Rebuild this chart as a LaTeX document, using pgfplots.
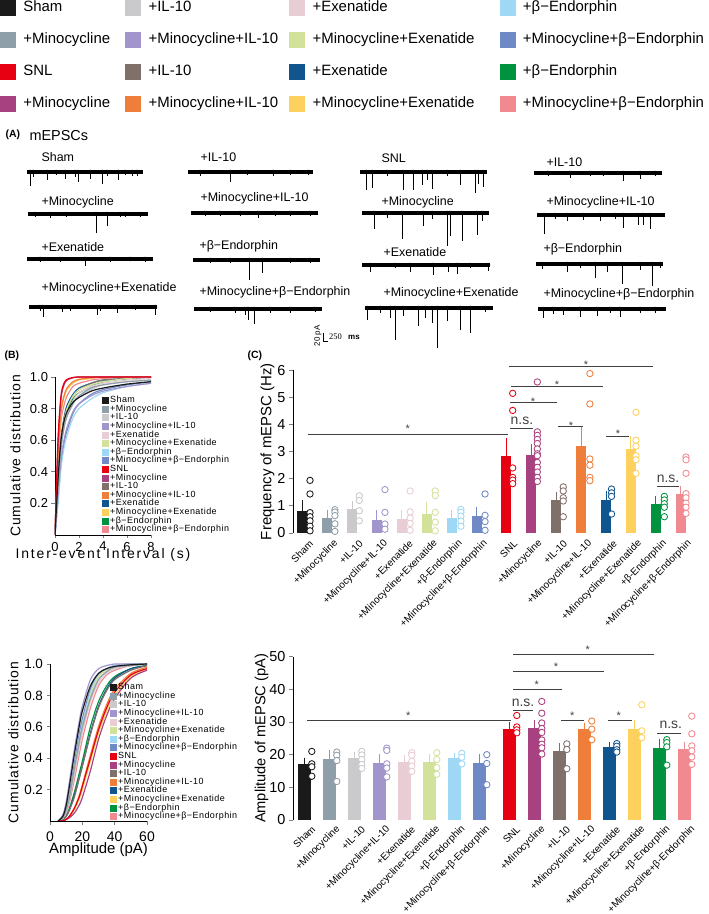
\documentclass[border=0pt]{standalone}
\usepackage{fontspec}
\setmainfont{Liberation Sans}
\newfontfamily\lserif{Liberation Serif}
\newfontfamily\trkA[LetterSpace=13]{Liberation Sans}
\newfontfamily\trkB[LetterSpace=7]{Liberation Sans}
\newfontfamily\trkL[LetterSpace=5]{Liberation Sans}
\usepackage{pgfplots}
\pgfplotsset{compat=1.18}
\newcommand{\fs}[1]{\fontsize{#1}{#1}\selectfont}
\definecolor{cSham}{HTML}{1A1A1A}
\definecolor{cMino}{HTML}{8E9FAA}
\definecolor{cIL}{HTML}{CACACC}
\definecolor{cMIL}{HTML}{A295CB}
\definecolor{cEx}{HTML}{E8CDD4}
\definecolor{cMEx}{HTML}{D3E29B}
\definecolor{cB}{HTML}{9ED8F5}
\definecolor{cMB}{HTML}{6F89C6}
\definecolor{cSNL}{HTML}{E60012}
\definecolor{cSMino}{HTML}{A8417F}
\definecolor{cSIL}{HTML}{80706A}
\definecolor{cSMIL}{HTML}{EE7E3A}
\definecolor{cSEx}{HTML}{11558F}
\definecolor{cSMEx}{HTML}{FED15E}
\definecolor{cSB}{HTML}{00923F}
\definecolor{cSMB}{HTML}{F08A90}
\definecolor{sig}{HTML}{404040}
\pgfplotsset{
 /pgf/number format/assume math mode=true,
 trace/.style={black, line width=4.2bp, forget plot},
 spk/.style={only marks, mark=none, forget plot, /pgfplots/error bars/y dir=plus, /pgfplots/error bars/y explicit, /pgfplots/error bars/error mark=none, /pgfplots/error bars/error bar style={line width=0.9bp, black}},
 cdf/.style={line width=1.2bp, smooth, forget plot},
 sigl/.style={sig, line width=0.9bp, forget plot},
 cdflegend/.style={legend cell align=left, legend image code/.code={\fill[##1] (0bp,-3bp) rectangle (6bp,3bp);},
  legend style={anchor=north west, draw=none, fill=none, inner sep=0pt, font=\fs{9}\trkL, row sep=0pt,
  nodes={inner sep=0pt, text height=6.6bp, text depth=2bp}, /tikz/every odd column/.style={column sep=1.5bp}}},
}
% color, bar width, x, mean, error, circles
\newcommand{\bargrp}[6]{%
\addplot[ybar, bar width=#2, bar shift=0pt, fill=#1, draw=none, forget plot, /pgfplots/error bars/y dir=plus, /pgfplots/error bars/y explicit, /pgfplots/error bars/error bar style={draw=#1, line width=1bp}, /pgfplots/error bars/error mark options={draw=#1, mark size=4bp, line width=1bp}] coordinates {(#3,#4) +- (0,#5)};
\addplot[only marks, mark=*, mark size=3.2bp, forget plot, mark options={draw=#1, fill=white, line width=0.85bp}] coordinates {#6};}
\newcommand{\cdfentries}{%
\addlegendimage{color=cSham}\addlegendentry{Sham}
\addlegendimage{color=cMino}\addlegendentry{+Minocycline}
\addlegendimage{color=cIL}\addlegendentry{+IL-10}
\addlegendimage{color=cMIL}\addlegendentry{+Minocycline+IL-10}
\addlegendimage{color=cEx}\addlegendentry{+Exenatide}
\addlegendimage{color=cMEx}\addlegendentry{+Minocycline+Exenatide}
\addlegendimage{color=cB}\addlegendentry{+β−Endorphin}
\addlegendimage{color=cMB}\addlegendentry{+Minocycline+β−Endorphin}
\addlegendimage{color=cSNL}\addlegendentry{SNL}
\addlegendimage{color=cSMino}\addlegendentry{+Minocycline}
\addlegendimage{color=cSIL}\addlegendentry{+IL-10}
\addlegendimage{color=cSMIL}\addlegendentry{+Minocycline+IL-10}
\addlegendimage{color=cSEx}\addlegendentry{+Exenatide}
\addlegendimage{color=cSMEx}\addlegendentry{+Minocycline+Exenatide}
\addlegendimage{color=cSB}\addlegendentry{+β−Endorphin}
\addlegendimage{color=cSMB}\addlegendentry{+Minocycline+β−Endorphin}}
\begin{document}
\begin{tikzpicture}
% ---------------- page axis: panel A traces and labels
\begin{axis}[hide axis, scale only axis, width=709bp, height=914bp, xmin=0, xmax=709, ymin=0, ymax=914, y dir=reverse, at={(0bp,0bp)}, anchor=south west, clip=false]
\node[anchor=west, font=\fs{10.5}\bfseries] at (axis cs:2,135) {(A)};
\node[anchor=west, font=\fs{14.5}] at (axis cs:26,136) {mEPSCs};
\node[anchor=west, font=\fs{10.5}\bfseries] at (axis cs:1,356) {(B)};
\node[anchor=west, font=\fs{10.5}\bfseries] at (axis cs:244,356) {(C)};
% column 1
\addplot[trace] coordinates {(27,172)(143,172)};
\addplot[spk] coordinates {(30,172)+-(0,14) (33,172)+-(0,5) (47,172)+-(0,8) (56,172)+-(0,3) (65,172)+-(0,7) (75,172)+-(0,5) (78,172)+-(0,10) (90,172)+-(0,7) (102,172)+-(0,12) (107,172)+-(0,4) (118,172)+-(0,8) (125,172)+-(0,3) (132,172)+-(0,4) (137,172)+-(0,4)};
\addplot[trace] coordinates {(28,214)(148,214)};
\addplot[spk] coordinates {(35,214)+-(0,3) (50,214)+-(0,4) (66,214)+-(0,3) (96,214)+-(0,19) (107,214)+-(0,12) (120,214)+-(0,3) (125,214)+-(0,3) (140,214)+-(0,3)};
\addplot[trace] coordinates {(27,259)(153,259)};
\addplot[spk] coordinates {(40,259)+-(0,3) (60,259)+-(0,3) (85,259)+-(0,7) (110,259)+-(0,3) (130,259)+-(0,2) (145,259)+-(0,3)};
\addplot[trace] coordinates {(29,307)(157,307)};
\addplot[spk] coordinates {(40,307)+-(0,4) (43,307)+-(0,10) (62,307)+-(0,5) (70,307)+-(0,4) (97,307)+-(0,8) (100,307)+-(0,4) (117,307)+-(0,6) (135,307)+-(0,3) (155,307)+-(0,8)};
% column 2
\addplot[trace] coordinates {(188,172)(313,172)};
\addplot[spk] coordinates {(200,172)+-(0,4) (230,172)+-(0,10) (247,172)+-(0,3) (273,172)+-(0,4) (290,172)+-(0,3) (308,172)+-(0,3)};
\addplot[trace] coordinates {(191,213)(318,213)};
\addplot[spk] coordinates {(205,213)+-(0,3) (220,213)+-(0,3) (240,213)+-(0,3) (258,213)+-(0,5) (275,213)+-(0,3) (290,213)+-(0,3) (310,213)+-(0,3)};
\addplot[trace] coordinates {(193,260)(320,260)};
\addplot[spk] coordinates {(210,260)+-(0,3) (230,260)+-(0,3) (249,260)+-(0,20) (262,260)+-(0,13) (290,260)+-(0,3) (310,260)+-(0,3)};
\addplot[trace] coordinates {(194,309)(322,309)};
\addplot[spk] coordinates {(210,309)+-(0,3) (235,309)+-(0,4) (245,309)+-(0,6) (248,309)+-(0,11) (254,309)+-(0,15) (270,309)+-(0,4) (290,309)+-(0,4) (315,309)+-(0,3)};
% column 3
\addplot[trace] coordinates {(360,172)(487,172)};
\addplot[spk] coordinates {(366,172)+-(0,18) (372,172)+-(0,16) (387,172)+-(0,4) (403,172)+-(0,18) (413,172)+-(0,18) (422,172)+-(0,13) (427,172)+-(0,8) (432,172)+-(0,17) (447,172)+-(0,4) (460,172)+-(0,13) (475,172)+-(0,21) (478,172)+-(0,12) (483,172)+-(0,15)};
\addplot[trace] coordinates {(362,213)(489,213)};
\addplot[spk] coordinates {(374,213)+-(0,16) (387,213)+-(0,5) (402,213)+-(0,26) (423,213)+-(0,13) (432,213)+-(0,6) (447,213)+-(0,33) (450,213)+-(0,23) (462,213)+-(0,28) (477,213)+-(0,22) (482,213)+-(0,8)};
\addplot[trace] coordinates {(362,265)(490,265)};
\addplot[spk] coordinates {(370,265)+-(0,7) (395,265)+-(0,3) (410,265)+-(0,7) (433,265)+-(0,10) (448,265)+-(0,7) (457,265)+-(0,9) (470,265)+-(0,3) (488,265)+-(0,6)};
\addplot[trace] coordinates {(365,308)(493,308)};
\addplot[spk] coordinates {(367,308)+-(0,12) (380,308)+-(0,5) (390,308)+-(0,10) (395,308)+-(0,32) (403,308)+-(0,8) (418,308)+-(0,18) (425,308)+-(0,10) (432,308)+-(0,15) (437,308)+-(0,40) (447,308)+-(0,13) (460,308)+-(0,22) (470,308)+-(0,25) (485,308)+-(0,4)};
% column 4
\addplot[trace] coordinates {(534,173)(662,173)};
\addplot[spk] coordinates {(548,173)+-(0,3) (570,173)+-(0,5) (590,173)+-(0,3) (603,173)+-(0,3) (623,173)+-(0,8) (640,173)+-(0,6) (655,173)+-(0,3)};
\addplot[trace] coordinates {(537,215)(665,215)};
\addplot[spk] coordinates {(544,215)+-(0,19) (555,215)+-(0,4) (567,215)+-(0,6) (583,215)+-(0,5) (600,215)+-(0,6) (615,215)+-(0,4) (623,215)+-(0,13) (638,215)+-(0,10) (643,215)+-(0,10) (650,215)+-(0,14)};
\addplot[trace] coordinates {(536,264)(663,264)};
\addplot[spk] coordinates {(542,264)+-(0,5) (567,264)+-(0,8) (580,264)+-(0,4) (595,264)+-(0,14) (607,264)+-(0,8) (622,264)+-(0,20) (640,264)+-(0,6) (652,264)+-(0,22) (660,264)+-(0,4)};
\addplot[trace] coordinates {(538,309)(666,309)};
\addplot[spk] coordinates {(543,309)+-(0,9) (553,309)+-(0,5) (563,309)+-(0,6) (580,309)+-(0,8) (597,309)+-(0,7) (610,309)+-(0,4) (620,309)+-(0,8) (640,309)+-(0,4) (655,309)+-(0,4)};
% trace labels
\begin{scope}[every node/.style={anchor=west, font=\fs{12.5}}]
\node at (axis cs:38,157) {Sham};
\node at (axis cs:38,202) {+Minocycline};
\node at (axis cs:38,247) {+Exenatide};
\node at (axis cs:38,288) {+Minocycline+Exenatide};
\node at (axis cs:197,157) {+IL-10};
\node at (axis cs:197,198) {+Minocycline+IL-10};
\node at (axis cs:196,246) {+β−Endorphin};
\node at (axis cs:196,292) {+Minocycline+β−Endorphin};
\node at (axis cs:378,158) {SNL};
\node at (axis cs:378,202) {+Minocycline};
\node at (axis cs:380,252) {+Exenatide};
\node at (axis cs:380,293) {+Minocycline+Exenatide};
\node at (axis cs:543,162) {+IL-10};
\node at (axis cs:543,202) {+Minocycline+IL-10};
\node at (axis cs:540,249) {+β−Endorphin};
\node at (axis cs:540,294) {+Minocycline+β−Endorphin};
\end{scope}
% scale bar
\draw[line width=0.8bp] (axis cs:323,333) -- (axis cs:323,341) -- (axis cs:328,341);
\node[rotate=90, font=\fs{8}, inner sep=0pt] at (axis cs:318,336) {20 pA};
\node[anchor=west, font=\fs{8.5}\lserif, inner sep=0pt] at (axis cs:329,337) {250};
\node[anchor=west, font=\fs{8}\bfseries, inner sep=0pt] at (axis cs:348,337) {ms};
\end{axis}
% ---------------- top legend
\begin{axis}[hide axis, scale only axis, width=10bp, height=10bp, xmin=0, xmax=1, ymin=0, ymax=1, at={(0bp,914bp)}, anchor=north west,
 legend columns=4, legend cell align=left,
 legend image code/.code={\fill[#1] (0bp,-7.5bp) rectangle (15bp,7.5bp);},
 legend style={at={(0,1)}, anchor=north west, draw=none, fill=none, inner sep=0pt, outer sep=0pt, font=\fs{15}, row sep=16.5bp,
  nodes={inner sep=0pt, text height=11bp, text depth=3.5bp},
  /tikz/every odd column/.style={column sep=8bp},
  /tikz/column 2/.style={column sep=15bp}, /tikz/column 4/.style={column sep=11bp}, /tikz/column 6/.style={column sep=25bp}}]
\addlegendimage{color=cSham}\addlegendentry{Sham}
\addlegendimage{color=cIL}\addlegendentry{+IL-10}
\addlegendimage{color=cEx}\addlegendentry{+Exenatide}
\addlegendimage{color=cB}\addlegendentry{+β−Endorphin}
\addlegendimage{color=cMino}\addlegendentry{+Minocycline}
\addlegendimage{color=cMIL}\addlegendentry{+Minocycline+IL-10}
\addlegendimage{color=cMEx}\addlegendentry{+Minocycline+Exenatide}
\addlegendimage{color=cMB}\addlegendentry{+Minocycline+β−Endorphin}
\addlegendimage{color=cSNL}\addlegendentry{SNL}
\addlegendimage{color=cSIL}\addlegendentry{+IL-10}
\addlegendimage{color=cSEx}\addlegendentry{+Exenatide}
\addlegendimage{color=cSB}\addlegendentry{+β−Endorphin}
\addlegendimage{color=cSMino}\addlegendentry{+Minocycline}
\addlegendimage{color=cSMIL}\addlegendentry{+Minocycline+IL-10}
\addlegendimage{color=cSMEx}\addlegendentry{+Minocycline+Exenatide}
\addlegendimage{color=cSMB}\addlegendentry{+Minocycline+β−Endorphin}
\end{axis}
% ---------------- B top: inter-event interval CDF
\begin{axis}[at={(55bp,379bp)}, anchor=south west, scale only axis, width=96bp, height=158bp,
 xmin=0, xmax=8, ymin=0, ymax=1, axis lines*=left, axis line style={-, line width=0.8bp},
 xtick={0,2,4,6,8}, ytick={0.2,0.4,0.6,0.8,1.0}, yticklabels={0.2,0.4,0.6,0.8,1.0},
 tick align=outside, major tick length=3.5bp, tick style={line width=0.8bp}, tick label style={font=\fs{13}},
 xlabel={Inter-event Interval (s)}, ylabel={Cumulative distribution},
 every axis y label/.style={at={(axis description cs:0,0.5)}, xshift=-39.5bp, rotate=90, anchor=center, font=\fs{14}\trkB},
 every axis x label/.style={at={(axis description cs:0.5,0)}, yshift=-20bp, anchor=center, font=\fs{14}\trkA},
 cdflegend, legend style={at={(0.49,0.88)}}]
\addplot[cdf, cSMB] coordinates {(0,0)(0.25,0.45)(0.5,0.72)(0.75,0.82)(1,0.88)(1.5,0.94)(2,0.96)(3,0.98)(4,0.99)(6,1)(8,1)};
\addplot[cdf, cSB] coordinates {(0,0)(0.25,0.32)(0.5,0.57)(0.75,0.7)(1,0.78)(1.5,0.86)(2,0.9)(3,0.94)(4,0.97)(6,0.99)(8,1)};
\addplot[cdf, cSMEx] coordinates {(0,0)(0.25,0.48)(0.5,0.76)(0.75,0.87)(1,0.92)(1.5,0.96)(2,0.98)(3,0.99)(4,1)(6,1)(8,1)};
\addplot[cdf, cSEx] coordinates {(0,0)(0.25,0.35)(0.5,0.6)(0.75,0.74)(1,0.82)(1.5,0.89)(2,0.93)(3,0.96)(4,0.98)(6,0.99)(8,1)};
\addplot[cdf, cSMIL] coordinates {(0,0)(0.25,0.5)(0.5,0.78)(0.75,0.88)(1,0.93)(1.5,0.97)(2,0.985)(3,0.995)(4,1)(6,1)(8,1)};
\addplot[cdf, cSIL] coordinates {(0,0)(0.25,0.35)(0.5,0.6)(0.75,0.73)(1,0.8)(1.5,0.88)(2,0.92)(3,0.96)(4,0.98)(6,0.99)(8,1)};
\addplot[cdf, cMB] coordinates {(0,0)(0.25,0.22)(0.5,0.45)(0.75,0.58)(1,0.66)(1.5,0.77)(2,0.83)(3,0.89)(4,0.92)(6,0.95)(8,0.97)};
\addplot[cdf, cB] coordinates {(0,0)(0.25,0.2)(0.5,0.42)(0.75,0.55)(1,0.63)(1.5,0.74)(2,0.8)(3,0.86)(4,0.9)(6,0.94)(8,0.96)};
\addplot[cdf, cMEx] coordinates {(0,0)(0.25,0.32)(0.5,0.58)(0.75,0.72)(1,0.8)(1.5,0.88)(2,0.92)(3,0.95)(4,0.97)(6,0.99)(8,1)};
\addplot[cdf, cEx] coordinates {(0,0)(0.25,0.3)(0.5,0.55)(0.75,0.68)(1,0.76)(1.5,0.85)(2,0.9)(3,0.94)(4,0.96)(6,0.98)(8,0.99)};
\addplot[cdf, cMIL] coordinates {(0,0)(0.25,0.25)(0.5,0.48)(0.75,0.6)(1,0.68)(1.5,0.78)(2,0.83)(3,0.88)(4,0.91)(6,0.94)(8,0.96)};
\addplot[cdf, cIL] coordinates {(0,0)(0.25,0.3)(0.5,0.55)(0.75,0.68)(1,0.76)(1.5,0.84)(2,0.88)(3,0.92)(4,0.95)(6,0.97)(8,0.98)};
\addplot[cdf, cMino] coordinates {(0,0)(0.25,0.3)(0.5,0.55)(0.75,0.68)(1,0.75)(1.5,0.83)(2,0.88)(3,0.93)(4,0.95)(6,0.97)(8,0.98)};
\addplot[cdf, cSMino] coordinates {(0,0)(0.25,0.58)(0.5,0.86)(0.75,0.95)(1,0.98)(1.5,0.995)(2,1)(3,1)(4,1)(6,1)(8,1)};
\addplot[cdf, cSNL] coordinates {(0,0)(0.25,0.6)(0.5,0.88)(0.75,0.96)(1,0.985)(1.5,0.997)(2,1)(3,1)(4,1)(6,1)(8,1)};
\addplot[cdf, cSham] coordinates {(0,0)(0.25,0.35)(0.5,0.6)(0.75,0.72)(1,0.78)(1.5,0.84)(2,0.87)(3,0.91)(4,0.93)(6,0.955)(8,0.97)};
\cdfentries
\end{axis}
% ---------------- B bottom: amplitude CDF
\begin{axis}[at={(50bp,93bp)}, anchor=south west, scale only axis, width=97bp, height=157bp,
 xmin=0, xmax=60, ymin=0, ymax=1, axis lines*=left, axis line style={-, line width=0.8bp},
 xtick={0,20,40,60}, ytick={0.2,0.4,0.6,0.8,1.0}, yticklabels={0.2,0.4,0.6,0.8,1.0},
 tick align=outside, major tick length=3.5bp, tick style={line width=0.8bp}, tick label style={font=\fs{13.5}},
 x tick label style={yshift=-4bp, font=\fs{14}},
 xlabel={Amplitude (pA)}, ylabel={Cumulative distribution},
 every axis y label/.style={at={(axis description cs:0,0.5)}, xshift=-36.5bp, rotate=90, anchor=center, font=\fs{14}\trkB},
 every axis x label/.style={at={(axis description cs:0.5,0)}, yshift=-29bp, anchor=center, font=\fs{15}},
 cdflegend, legend style={at={(0.62,0.88)}}]
\addplot[cdf, cSMB] coordinates {(5,0)(8,0.02)(10,0.05)(12,0.12)(15,0.26)(18,0.42)(20,0.52)(25,0.72)(30,0.86)(35,0.93)(40,0.96)(50,0.99)(60,1)};
\addplot[cdf, cSB] coordinates {(5,0)(8,0.01)(10,0.03)(12,0.08)(15,0.18)(18,0.3)(20,0.38)(25,0.6)(30,0.76)(35,0.86)(40,0.92)(50,0.97)(60,0.99)};
\addplot[cdf, cSMEx] coordinates {(5,0)(8,0)(10,0.01)(12,0.03)(15,0.07)(18,0.14)(20,0.2)(25,0.38)(30,0.56)(35,0.7)(40,0.8)(50,0.92)(60,0.97)};
\addplot[cdf, cSEx] coordinates {(5,0)(8,0.01)(10,0.03)(12,0.07)(15,0.16)(18,0.27)(20,0.35)(25,0.56)(30,0.73)(35,0.84)(40,0.91)(50,0.97)(60,0.99)};
\addplot[cdf, cSMIL] coordinates {(5,0)(8,0)(10,0.01)(12,0.03)(15,0.08)(18,0.16)(20,0.23)(25,0.42)(30,0.6)(35,0.74)(40,0.84)(50,0.94)(60,0.98)};
\addplot[cdf, cSIL] coordinates {(5,0)(8,0.01)(10,0.03)(12,0.07)(15,0.15)(18,0.27)(20,0.35)(25,0.55)(30,0.72)(35,0.83)(40,0.9)(50,0.96)(60,0.99)};
\addplot[cdf, cMB] coordinates {(5,0)(8,0.03)(10,0.08)(12,0.17)(15,0.36)(18,0.55)(20,0.65)(25,0.84)(30,0.94)(35,0.97)(40,0.99)(50,1)(60,1)};
\addplot[cdf, cB] coordinates {(5,0)(8,0.02)(10,0.06)(12,0.15)(15,0.33)(18,0.52)(20,0.62)(25,0.82)(30,0.93)(35,0.97)(40,0.99)(50,1)(60,1)};
\addplot[cdf, cMEx] coordinates {(5,0)(8,0.02)(10,0.07)(12,0.15)(15,0.32)(18,0.5)(20,0.6)(25,0.8)(30,0.92)(35,0.96)(40,0.98)(50,0.99)(60,1)};
\addplot[cdf, cEx] coordinates {(5,0)(8,0.02)(10,0.06)(12,0.14)(15,0.3)(18,0.46)(20,0.56)(25,0.76)(30,0.88)(35,0.94)(40,0.97)(50,0.99)(60,1)};
\addplot[cdf, cMIL] coordinates {(5,0)(8,0.04)(10,0.12)(12,0.25)(15,0.45)(18,0.63)(20,0.73)(25,0.9)(30,0.97)(35,0.99)(40,1)(50,1)(60,1)};
\addplot[cdf, cIL] coordinates {(5,0)(8,0.02)(10,0.06)(12,0.14)(15,0.3)(18,0.48)(20,0.58)(25,0.78)(30,0.9)(35,0.95)(40,0.98)(50,0.99)(60,1)};
\addplot[cdf, cMino] coordinates {(5,0)(8,0.02)(10,0.07)(12,0.15)(15,0.33)(18,0.5)(20,0.6)(25,0.78)(30,0.9)(35,0.95)(40,0.98)(50,0.99)(60,1)};
\addplot[cdf, cSMino] coordinates {(5,0)(8,0)(10,0.01)(12,0.02)(15,0.05)(18,0.1)(20,0.15)(25,0.32)(30,0.52)(35,0.67)(40,0.78)(50,0.91)(60,0.96)};
\addplot[cdf, cSNL] coordinates {(5,0)(8,0)(10,0.01)(12,0.03)(15,0.08)(18,0.15)(20,0.22)(25,0.4)(30,0.58)(35,0.72)(40,0.82)(50,0.93)(60,0.97)};
\addplot[cdf, cSham] coordinates {(5,0)(8,0.03)(10,0.1)(12,0.22)(15,0.42)(18,0.6)(20,0.7)(25,0.86)(30,0.94)(35,0.97)(40,0.985)(50,0.995)(60,1)};
\cdfentries
\end{axis}
% ---------------- C top: frequency
\begin{axis}[at={(293bp,381bp)}, anchor=south west, scale only axis, width=398.4bp, height=162.7bp,
 xmin=-0.373, xmax=15.627, ymin=0, ymax=6, clip=false,
 axis lines*=left, axis line style={-, line width=0.8bp}, x axis line style={draw=none},
 xtick={0,1,2,3,4,5,6,7,8.2,9.2,10.2,11.2,12.2,13.2,14.2,15.2},
 xticklabels={Sham,+Minocycline,+IL-10,+Minocycline+IL-10,+Exenatide,+Minocycline+Exenatide,+β-Endorphin,+Minocycline+β-Endorphin,SNL,+Minocycline,+IL-10,+Minocycline+IL-10,+Exenatide,+Minocycline+Exenatide,+β-Endorphin,+Minocycline+β-Endorphin},
 x tick label style={rotate=45, anchor=east, font=\fs{10}, inner sep=0pt, xshift=3bp, yshift=-10bp},
 xtick style={draw=none}, ytick={0,1,2,3,4,5,6}, tick align=outside, major tick length=4bp, y tick style={line width=0.8bp},
 y tick label style={font=\fs{14.5}},
 ylabel={Frequency of mEPSC (Hz)},
 every axis y label/.style={at={(axis description cs:0,0.5)}, xshift=-25.5bp, rotate=90, anchor=center, font=\fs{15}}]
\bargrp{cSham}{10bp}{0}{0.80}{0.28}{(0.31,1.94)(0.31,1.44)(0.31,0.75)(0.31,0.6)(0.31,0.45)(0.31,0.25)(0.31,0.08)}
\bargrp{cMino}{10bp}{1}{0.55}{0.16}{(1.31,0.86)(1.31,0.77)(1.31,0.64)(1.31,0.34)(1.31,0.06)}
\bargrp{cIL}{10bp}{2}{0.87}{0.18}{(2.29,1.37)(2.29,1.2)(2.29,0.82)(2.29,0.45)}
\bargrp{cMIL}{10bp}{3}{0.49}{0.22}{(3.32,1.6)(3.32,0.76)(3.32,0.33)(3.32,0.14)}
\bargrp{cEx}{10bp}{4}{0.53}{0.18}{(4.33,1.55)(4.33,0.78)(4.33,0.55)(4.33,0.35)(4.33,0.1)}
\bargrp{cMEx}{10bp}{5}{0.71}{0.29}{(5.34,1.55)(5.34,1.38)(5.34,0.76)(5.34,0.4)(5.34,0.08)}
\bargrp{cB}{10bp}{6}{0.55}{0.14}{(6.37,0.87)(6.37,0.77)(6.37,0.62)(6.37,0.44)(6.37,0.25)}
\bargrp{cMB}{10bp}{7}{0.62}{0.18}{(7.34,1.44)(7.34,0.65)(7.34,0.42)(7.34,0.1)}
\bargrp{cSNL}{10bp}{8.2}{2.83}{0.53}{(8.45,5.15)(8.45,4.52)(8.45,2.4)(8.45,2.05)(8.45,1.95)(8.45,1.82)}
\bargrp{cSMino}{10bp}{9.2}{2.87}{0.27}{(9.44,5.57)(9.44,3.73)(9.44,3.6)(9.44,3.45)(9.44,3.3)(9.44,3.1)(9.44,2.92)(9.44,2.85)(9.44,2.6)(9.44,2.42)(9.44,2.25)(9.44,2.05)(9.44,1.9)}
\bargrp{cSIL}{10bp}{10.2}{1.21}{0.17}{(10.48,1.7)(10.48,1.55)(10.48,1.3)(10.48,1.18)(10.48,0.6)}
\bargrp{cSMIL}{10bp}{11.2}{3.21}{0.58}{(11.55,5.88)(11.55,4.76)(11.55,2.73)(11.55,2.5)(11.55,2.05)(11.55,1.93)}
\bargrp{cSEx}{10bp}{12.2}{1.23}{0.16}{(12.42,1.62)(12.42,1.48)(12.42,1.35)(12.42,0.7)}
\bargrp{cSMEx}{10bp}{13.2}{3.08}{0.34}{(13.4,4.45)(13.4,3.42)(13.4,3.2)(13.4,2.85)(13.4,2.7)(13.4,2.2)}
\bargrp{cSB}{10bp}{14.2}{1.08}{0.13}{(14.54,1.35)(14.54,1.22)(14.54,1.08)(14.54,0.95)(14.54,0.6)}
\bargrp{cSMB}{10bp}{15.2}{1.44}{0.16}{(15.41,2.8)(15.41,2.7)(15.41,2.2)(15.41,1.45)(15.41,1.3)(15.41,1.1)(15.41,0.95)(15.41,0.72)}
\addplot[sigl] coordinates {(0.23,3.65)(8.26,3.65)};
\addplot[sigl] coordinates {(8.34,3.87)(9.27,3.87)};
\addplot[sigl] coordinates {(8.34,4.8)(10.23,4.8)};
\addplot[sigl] coordinates {(8.38,5.42)(12.07,5.42)};
\addplot[sigl] coordinates {(8.3,6.15)(14.08,6.15)};
\addplot[sigl] coordinates {(10.27,3.92)(11.27,3.92)};
\addplot[sigl] coordinates {(12.2,3.57)(13.12,3.57)};
\addplot[sigl] coordinates {(14.24,1.73)(15.13,1.73)};
\begin{scope}[every node/.style={font=\fs{11}, inner sep=0pt, sig}]
\node at (axis cs:4.24,3.85) {*};
\node at (axis cs:9.27,4.84) {*};
\node at (axis cs:10.23,5.47) {*};
\node at (axis cs:11.39,6.21) {*};
\node at (axis cs:10.79,3.96) {*};
\node at (axis cs:12.68,3.66) {*};
\end{scope}
\node[font=\fs{14}, inner sep=0pt, sig] at (axis cs:8.82,4.12) {n.s.};
\node[font=\fs{14}, inner sep=0pt, sig] at (axis cs:14.69,1.98) {n.s.};
\end{axis}
% ---------------- C bottom: amplitude
\begin{axis}[at={(293bp,94bp)}, anchor=south west, scale only axis, width=400bp, height=163.3bp,
 xmin=-0.452, xmax=15.548, ymin=0, ymax=50, clip=false,
 axis lines*=left, axis line style={-, line width=0.8bp}, x axis line style={draw=none},
 xtick={0,1,2,3,4,5,6,7,8.2,9.2,10.2,11.2,12.2,13.2,14.2,15.2},
 xticklabels={Sham,+Minocycline,+IL-10,+Minocycline+IL-10,+Exenatide,+Minocycline+Exenatide,+β-Endorphin,+Minocycline+β-Endorphin,SNL,+Minocycline,+IL-10,+Minocycline+IL-10,+Exenatide,+Minocycline+Exenatide,+β-Endorphin,+Minocycline+β-Endorphin},
 x tick label style={rotate=45, anchor=east, font=\fs{10}, inner sep=0pt, xshift=4bp, yshift=-9bp},
 xtick style={draw=none}, ytick={0,10,20,30,40,50}, tick align=outside, major tick length=4bp, y tick style={line width=0.8bp},
 y tick label style={font=\fs{14.5}},
 ylabel={Amplitude of mEPSC (pA)},
 every axis y label/.style={at={(axis description cs:0,0.5)}, xshift=-31.5bp, rotate=90, anchor=center, font=\fs{14.7}}]
\bargrp{cSham}{12.5bp}{0}{17.0}{0.9}{(0.3,21.0)(0.3,17.2)(0.3,16.3)(0.3,13.4)}
\bargrp{cMino}{12.5bp}{1}{18.6}{1.5}{(1.3,20.8)(1.3,19.8)(1.3,18.2)(1.3,11.8)}
\bargrp{cIL}{12.5bp}{2}{18.9}{0.8}{(2.3,21.0)(2.3,19.9)(2.3,18.5)(2.3,17.0)(2.3,15.8)}
\bargrp{cMIL}{12.5bp}{3}{17.3}{1.6}{(3.3,22.0)(3.3,21.3)(3.3,17.2)(3.3,15.9)(3.3,13.2)}
\bargrp{cEx}{12.5bp}{4}{17.7}{1.0}{(4.3,20.6)(4.3,19.8)(4.3,18.0)(4.3,16.5)(4.3,14.9)}
\bargrp{cMEx}{12.5bp}{5}{17.9}{1.2}{(5.3,20.6)(5.3,18.5)(5.3,16.0)(5.3,14.0)}
\bargrp{cB}{12.5bp}{6}{18.9}{0.4}{(6.3,20.4)(6.3,19.2)(6.3,17.2)}
\bargrp{cMB}{12.5bp}{7}{17.3}{1.8}{(7.3,20.0)(7.3,17.3)(7.3,10.8)}
\bargrp{cSNL}{12.5bp}{8.2}{27.9}{0.9}{(8.5,32.0)(8.5,28.5)(8.5,27.6)(8.5,26.7)}
\bargrp{cSMino}{12.5bp}{9.2}{28.3}{1.1}{(9.5,36.3)(9.5,32.7)(9.5,29.7)(9.5,28.0)(9.5,26.8)(9.5,24.5)(9.5,23.2)(9.5,22.1)(9.5,20.2)}
\bargrp{cSIL}{12.5bp}{10.2}{21.2}{1.2}{(10.5,23.3)(10.5,21.6)(10.5,15.7)}
\bargrp{cSMIL}{12.5bp}{11.2}{27.8}{0.8}{(11.5,30.3)(11.5,27.8)(11.5,24.6)}
\bargrp{cSEx}{12.5bp}{12.2}{22.2}{0.5}{(12.5,23.4)(12.5,22.6)(12.5,21.5)(12.5,20.8)}
\bargrp{cSMEx}{12.5bp}{13.2}{28.0}{1.3}{(13.5,35.3)(13.5,27.3)(13.5,25.2)}
\bargrp{cSB}{12.5bp}{14.2}{22.1}{1.4}{(14.5,24.6)(14.5,23.7)(14.5,22.4)(14.5,16.8)}
\bargrp{cSMB}{12.5bp}{15.2}{21.8}{1.0}{(15.5,31.8)(15.5,26.4)(15.5,22.7)(15.5,21.2)(15.5,19.3)(15.5,17.0)}
\addplot[sigl] coordinates {(0.12,30.6)(8.27,30.6)};
\addplot[sigl] coordinates {(8.35,33.6)(9.15,33.6)};
\addplot[sigl] coordinates {(8.35,40.1)(10.31,40.1)};
\addplot[sigl] coordinates {(8.35,45.4)(11.99,45.4)};
\addplot[sigl] coordinates {(8.35,50.8)(13.99,50.8)};
\addplot[sigl] coordinates {(10.27,30.6)(11.19,30.6)};
\addplot[sigl] coordinates {(12.16,30.6)(13.1,30.6)};
\addplot[sigl] coordinates {(14.12,26.5)(15.06,26.5)};
\begin{scope}[every node/.style={font=\fs{11}, inner sep=0pt, sig}]
\node at (axis cs:4.16,32.0) {*};
\node at (axis cs:9.3,41.5) {*};
\node at (axis cs:10.07,46.8) {*};
\node at (axis cs:11.34,52.2) {*};
\node at (axis cs:10.72,32.0) {*};
\node at (axis cs:12.58,32.0) {*};
\end{scope}
\node[font=\fs{14}, inner sep=0pt, sig] at (axis cs:8.75,35.8) {n.s.};
\node[font=\fs{14}, inner sep=0pt, sig] at (axis cs:14.66,29.1) {n.s.};
\end{axis}
\pgfresetboundingbox
\useasboundingbox (0bp,0bp) rectangle (709bp,914bp);
\end{tikzpicture}
\end{document}
